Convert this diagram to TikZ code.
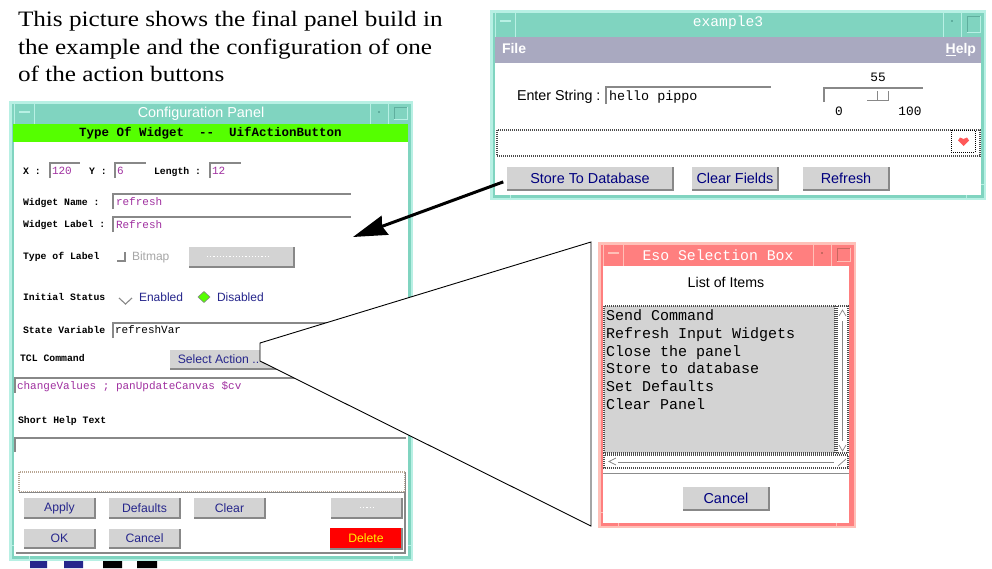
\documentclass[tikz,border=0pt]{standalone}
\usepackage{fontspec}
\usetikzlibrary{arrows.meta}
\setmainfont{Liberation Serif}
\newfontfamily\capfont[FakeStretch=1.145]{Liberation Serif}
\newfontfamily\lsans{Liberation Sans}
\newfontfamily\lmono{Liberation Mono}
\definecolor{teal1}{HTML}{80D4C0}
\definecolor{teal2}{HTML}{B8F0E4}
\definecolor{teal3}{HTML}{5FAE9E}
\definecolor{salmon1}{HTML}{FF7F7F}
\definecolor{salmon2}{HTML}{FFC0B8}
\definecolor{salmon3}{HTML}{C86860}
\definecolor{btngray}{HTML}{D3D3D3}
\definecolor{edgegray}{HTML}{888888}
\definecolor{navytxt}{HTML}{26268C}
\definecolor{bluetxt}{HTML}{00007F}
\definecolor{purp}{HTML}{A030A0}
\definecolor{menu}{HTML}{A9A9C0}
\definecolor{greenbar}{HTML}{55FF00}
\newcommand{\fz}[1]{\fontsize{#1}{#1}\selectfont}
\newcommand{\btnsz}{12.2}
\tikzset{
  x=1pt,y=-1pt,
  txt/.style={inner sep=0pt,outer sep=0pt,anchor=mid west,text=black,yshift=-1.6pt},
  ctr/.style={inner sep=0pt,outer sep=0pt,anchor=mid,text=black,yshift=-1.6pt},
  lab/.style={txt,font=\lmono\bfseries\fz{9.8}},
  val/.style={txt,font=\lmono\fz{11},text=purp},
  sanstxt/.style={txt,font=\lsans\fz{12},text=navytxt},
  captxt/.style={inner sep=0pt,outer sep=0pt,anchor=base west,font=\capfont\fz{22}},
  field/.style={draw=edgegray,line width=1.1pt},
  wedgeshape/.style={draw=black,fill=white,line width=0.9pt},
  stipple/.style={draw=black!70,line width=1.6pt,dash pattern=on 1pt off 1pt},
}
% name, x1,y1,x2,y2, text, text colour, fill
\newcommand{\btn}[8]{%
  \node[fill=#8,inner sep=0pt,outer sep=0pt,minimum width={(#4-#2)*1pt},minimum height={(#5-#3)*1pt},text=#7,font=\lsans\fz{\btnsz}]
    (#1) at ({(#2+#4)/2},{(#3+#5)/2}) {#6};
  \draw[edgegray,line width=1.1pt] (#1.north east)--(#1.south east)--(#1.south west);
}
% x1,y1,x2,y2 title-bottom, main, light, dark
\newcommand{\wframe}[8]{%
  \fill[#7] (#1,#2) rectangle (#3,#4);
  \fill[#6] (#1+2.5,#2+2.5) rectangle (#3-2.5,#4-2.5);
  \fill[white] (#1+5,#5) rectangle (#3-5,#4-5);
  \draw[#7,line width=.7pt] (#1+5,#2+2) -- (#1+5,#5) (#1+25,#2+2)--(#1+25,#5)
     (#3-43,#2+2)--(#3-43,#5) (#3-25,#2+2)--(#3-25,#5);
  \draw[#7,line width=.7pt] (#1,#4-16)--(#1+5,#4-16) (#3,#4-16)--(#3-5,#4-16)
     (#1+20,#4)--(#1+20,#4-5) (#3-20,#4)--(#3-20,#4-5);
  \draw[#7,line width=1.4pt] (#1+10,#2+11)--(#1+21,#2+11);
  \fill[#8] (#3-35,#2+10) rectangle (#3-33,#2+12);
  \draw[#8,line width=.7pt] (#3-19,#5-5)|-(#3-6,#2+6);
  \draw[#7,line width=.8pt] (#3-19,#5-5)-|(#3-6,#2+6);
}
\begin{document}
\begin{tikzpicture}
\useasboundingbox (0,0) rectangle (992,568);
\fill[white] (0,0) rectangle (992,568);

% caption
\node[captxt] (cap1) at (18,26) {This picture shows the final panel build in};
\node[captxt] (cap2) at (18,54) {the example and the configuration of one};
\node[captxt] (cap3) at (18,81) {of the action buttons};

% ---------- screen leftovers under the panel
\fill[navytxt] (30,561) rectangle (47,568) (64,561) rectangle (83,568);
\fill[black] (103,561) rectangle (122,568) (137,561) rectangle (157,568);

% ---------- configuration panel
\wframe{9}{101}{413}{561}{124}{teal1}{teal2}{teal3}
\node[ctr,text=white,font=\lsans\fz{14.4}] (ptitle) at (201,114) {Configuration Panel};
\fill[greenbar] (13,124) rectangle (408,142);
\node[ctr,font=\lmono\bfseries\fz{12.5}] (ptype) at (210.5,132.5) {Type Of Widget~~--~~UifActionButton};

\node[lab] (lx) at (23,170.5) {X :};
\draw[field] (50,178)|-(80,163);
\node[val] (vx) at (52,171) {120};
\node[lab] (ly) at (89,170.5) {Y :};
\draw[field] (115,178)|-(146,163);
\node[val] (vy) at (117,171) {6};
\node[lab] (ll) at (154,170.5) {Length :};
\draw[field] (210,178)|-(241,163);
\node[val] (vl) at (212,171) {12};

\node[lab] (lname) at (23,201.5) {Widget Name :};
\draw[field] (113,209)|-(351,194);
\node[val] (vname) at (116,202) {refresh};
\node[lab] (llabel) at (23,223.5) {Widget Label :};
\draw[field] (113,232)|-(351,217);
\node[val] (vlabel) at (116,224.5) {Refresh};

\node[lab] (ltype) at (23,255.5) {Type of Label};
\draw[edgegray,line width=1.1pt] (117,261)-|(125,252);
\node[txt,font=\lsans\fz{12},text=black!35] (bitmap) at (132,256.5) {Bitmap};
\node[fill=btngray,inner sep=0pt,outer sep=0pt,minimum width=105pt,minimum height=20pt] (bmpbtn) at (241.5,257) {};
\draw[edgegray,line width=1.1pt] (bmpbtn.north east)--(bmpbtn.south east)--(bmpbtn.south west);
\draw[white,line width=1.4pt,dash pattern=on 1.2pt off 2pt] (207,256.5)--(270,256.5);

\node[lab] (lstat) at (23,297) {Initial Status};
\draw[edgegray,line width=1.1pt] (119,298)--(125.5,304)--(132,298);
\node[sanstxt] (enabled) at (139,298) {Enabled};
\fill[greenbar,draw=edgegray,line width=.6pt] (204,291.5)--(210,297)--(204,302.5)--(198,297)--cycle;
\node[sanstxt] (disabled) at (217,298) {Disabled};

\node[lab] (lstate) at (23,329.5) {State Variable};
\draw[field] (113,338)|-(408,323);
\node[val,text=black] (vstate) at (115,330) {refreshVar};

\node[lab] (ltcl) at (20,358) {TCL Command};
\btn{selact}{170}{350}{284}{369}{\hspace{-17pt}Select Action ..}{navytxt}{btngray}
\draw[field] (15,393)|-(408,378);
\node[val] (vcmd) at (17,386) {changeValues ; panUpdateCanvas \$cv};

\node[lab] (lhelp) at (18,420) {Short Help Text};
\draw[field] (15,452)|-(406,438);

\draw[black!40!brown!50,line width=1.4pt,dash pattern=on 1pt off 1pt] (19,472) rectangle (405,492);
\draw[edgegray,line width=1pt] (19,492)--(405,492)--(405,472);

\btn{apply}{24}{498}{95}{518}{Apply}{navytxt}{btngray}
\btn{defaults}{109}{498}{180}{518}{Defaults}{navytxt}{btngray}
\btn{clear}{194}{498}{265}{518}{Clear}{navytxt}{btngray}
\btn{ghost}{331}{498}{402}{518}{}{white}{btngray}
\draw[white,line width=1.4pt,dash pattern=on 1.2pt off 2pt] (360,507.5)--(375,507.5);
\btn{ok}{24}{529}{95}{548}{OK}{navytxt}{btngray}
\btn{cancela}{109}{529}{180}{548}{Cancel}{navytxt}{btngray}
\btn{delete}{330}{528}{402}{549}{Delete}{yellow}{red}
\draw[edgegray,line width=1.1pt] (16,553)--(405,553)--(405,492);

% ---------- wedge
\coordinate (wa) at (260,343);
\coordinate (wb) at (260,361);
\coordinate (wc) at (591,242);
\coordinate (wd) at (591,526);
\draw[wedgeshape] (wa)--(wc)--(wd)--(wb)--cycle;

% ---------- example3 window
\renewcommand{\btnsz}{14.4}
\wframe{490}{10}{986}{200}{37}{teal1}{teal2}{teal3}
\node[ctr,text=white,font=\lmono\fz{14.6}] (etitle) at (728,23) {example3};
\fill[menu] (495,37) rectangle (981,63);
\node[txt,text=white,font=\lsans\bfseries\fz{14}] (file) at (502,50) {File};
\node[txt,text=white,font=\lsans\bfseries\fz{14},anchor=mid east] (help) at (976,50) {\underline{H}elp};

\node[txt,font=\lsans\fz{14.3}] (enter) at (517,96.5) {Enter String :};
\draw[field] (606,104)|-(771,87);
\node[txt,font=\lmono\fz{13.4}] (hello) at (609,96.5) {hello pippo};

\node[ctr,font=\lmono\fz{12.8}] (v55) at (878,78) {55};
\draw[field] (824,102)|-(923,88);
\draw[edgegray,line width=1pt] (867,100.5)-|(877,91) (877,100.5)-|(888,91);
\node[ctr,font=\lmono\fz{12.8}] (v0) at (839,112) {0};
\node[ctr,font=\lmono\fz{12.8}] (v100) at (910,112) {100};

\draw[stipple] (497,130) rectangle (980,156);
\draw[black,line width=.8pt,dash pattern=on 1pt off 1pt] (951,130)|-(975,152)|-cycle;
\fill[red!65!white] (963.5,146)--(958,140.5)--(960,137.5)--(963.5,139)--(967,137.5)--(969,140.5)--cycle;

\btn{store}{507}{167}{673}{190}{Store To Database}{bluetxt}{btngray}
\btn{clearf}{692}{167}{778}{190}{Clear Fields}{bluetxt}{btngray}
\btn{refresh}{803}{167}{889}{190}{Refresh}{bluetxt}{btngray}

% ---------- big arrow
\coordinate (atip) at (353,237);
\draw[line width=3pt,shorten <=4pt,-{Stealth[length=34pt,width=20pt,inset=3pt]}] ([yshift=-2pt]store.west)--(atip);

% ---------- selection box
\wframe{598}{242}{856}{528}{266}{salmon1}{salmon2}{salmon3}
\fill[salmon1] (849,266) rectangle (853.5,523);
\node[ctr,text=white,font=\lmono\fz{14.8}] (stitle) at (718,257) {Eso Selection Box};
\node[ctr,font=\lsans\fz{14.2}] (listt) at (726,284) {List of Items};
\fill[btngray] (604,306) rectangle (835,453);
\draw[stipple] (604,306) rectangle (835,453);
\draw[stipple] (837,306) rectangle (848,453);
\draw[stipple] (604,455) rectangle (848,468);
\draw[edgegray,line width=.8pt] (842,321)--(842,441);
\draw[edgegray,line width=.8pt] (618,462)--(834,462);
\draw[edgegray,line width=.7pt] (839,316)--(842.5,310)--(846,316) (839,445)--(842.5,451)--(846,445)
   (616,458)--(609,461.5)--(616,465) (838,466)--(846,459);
\foreach \nm/\yy/\tx in {a/317/Send Command,b/335/Refresh Input Widgets,c/353/Close the panel,d/370/Store to database,e/388/Set Defaults,f/406/Clear Panel}
  \node[txt,font=\lmono\fz{15}] (item\nm) at (606,\yy) {\tx};
\draw[black!45,line width=.8pt] (603,473)--(849,473);
\btn{cancelb}{683}{487}{769}{510}{Cancel}{bluetxt}{btngray}
\end{tikzpicture}
\end{document}
